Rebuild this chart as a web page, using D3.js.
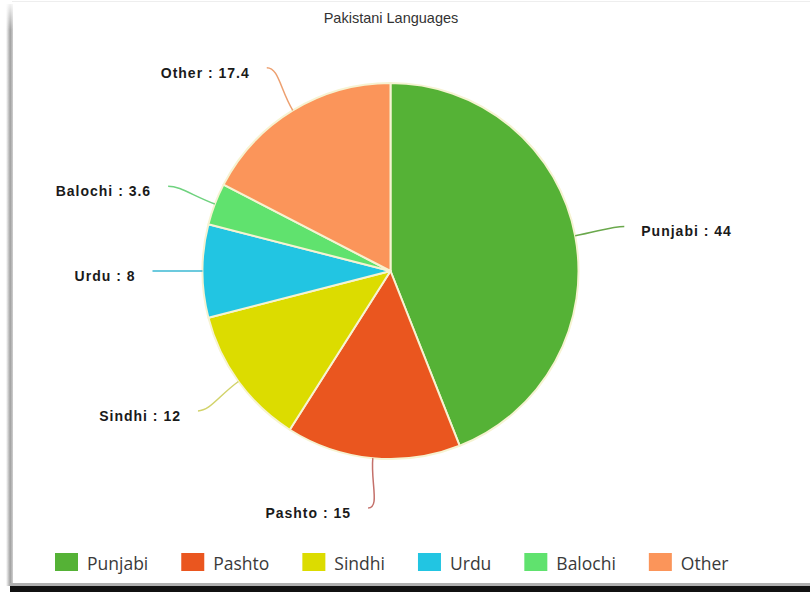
<!DOCTYPE html>
<html>
<head>
<meta charset="utf-8">
<script src="https://cdn.jsdelivr.net/npm/d3@7"></script>
<style>
  html, body { margin: 0; padding: 0; background: #fff; }
  svg { display: block; }
</style>
</head>
<body>
<svg id="chart" width="810" height="592"></svg>
<script>
const title = "Pakistani Languages";
const categories = ["Punjabi", "Pashto", "Sindhi", "Urdu", "Balochi", "Other"];
const values = [44, 15, 12, 8, 3.6, 17.4];
const colors = ["#55b236", "#ea561f", "#dcdc00", "#22c5e2", "#60e26e", "#fb955a"];
const lineColors = ["#6aa84c", "#c4706a", "#d2d36a", "#3bb8d3", "#6fd27f", "#eda070"];

const svg = d3.select("#chart");
const W = 810, H = 592;

// frame / card look
const defs = svg.append("defs");
const g1 = defs.append("linearGradient").attr("id", "lshadow").attr("x1", 0).attr("x2", 1).attr("y1", 0).attr("y2", 0);
g1.append("stop").attr("offset", "0%").attr("stop-color", "#ffffff");
g1.append("stop").attr("offset", "60%").attr("stop-color", "#a0a0a0");
g1.append("stop").attr("offset", "100%").attr("stop-color", "#d0d0d0");
const g2 = defs.append("linearGradient").attr("id", "tshadow").attr("x1", 0).attr("x2", 0).attr("y1", 0).attr("y2", 1);
g2.append("stop").attr("offset", "0%").attr("stop-color", "#fff").attr("stop-opacity", 1);
g2.append("stop").attr("offset", "100%").attr("stop-color", "#fff").attr("stop-opacity", 0);

svg.append("rect").attr("x", 0).attr("y", 0).attr("width", W).attr("height", H).attr("fill", "#fff");
svg.append("rect").attr("x", 6).attr("y", 4).attr("width", 7).attr("height", 582).attr("fill", "url(#lshadow)");
svg.append("rect").attr("x", 0).attr("y", 0).attr("width", 20).attr("height", 30).attr("fill", "url(#tshadow)");
svg.append("rect").attr("x", 12).attr("y", 1).attr("width", W).attr("height", 1).attr("fill", "#eeeeee");
svg.append("rect").attr("x", 10).attr("y", 583).attr("width", W).attr("height", 3).attr("fill", "#b0b0b0");
svg.append("rect").attr("x", 10).attr("y", 586).attr("width", W).attr("height", 6).attr("fill", "#111");

// title
svg.append("text")
  .attr("x", 391).attr("y", 23)
  .attr("text-anchor", "middle")
  .attr("font-family", "Liberation Sans, Arial, sans-serif")
  .attr("font-size", 14.5)
  .attr("fill", "#333")
  .text(title);

// pie
const cx = 390.5, cy = 271, R = 188;
const data = categories.map((c, i) => ({ name: c, value: values[i], color: colors[i], lc: lineColors[i] }));
const pie = d3.pie().sort(null).value(d => d.value).startAngle(0).endAngle(2 * Math.PI);
const arcs = pie(data);
const arc = d3.arc().innerRadius(0).outerRadius(R);

const g = svg.append("g").attr("transform", `translate(${cx},${cy})`);
g.selectAll("path.slice").data(arcs).enter().append("path")
  .attr("class", "slice")
  .attr("d", arc)
  .attr("fill", d => d.data.color)
  .attr("stroke", "#f6f3d2")
  .attr("stroke-width", 2)
  .attr("stroke-linejoin", "round");

// leader lines & labels
const pt = (a, r) => [r * Math.sin(a), -r * Math.cos(a)];
arcs.forEach(d => {
  const a = (d.startAngle + d.endAngle) / 2;
  const s = Math.sin(a) >= 0 ? 1 : -1;
  const p0 = pt(a, R);
  const c1 = pt(a, R + 24);
  const e = pt(a, R + 50);
  const c2 = [e[0] - s * 12, e[1]];
  const path = d3.path();
  path.moveTo(p0[0], p0[1]);
  path.bezierCurveTo(c1[0], c1[1], c2[0], c2[1], e[0], e[1]);
  g.append("path")
    .attr("d", path.toString())
    .attr("fill", "none")
    .attr("stroke", d.data.lc)
    .attr("stroke-width", 1.5);
  g.append("text")
    .attr("x", e[0] + s * 17)
    .attr("y", e[1] + 5)
    .attr("dominant-baseline", "central")
    .attr("text-anchor", s > 0 ? "start" : "end")
    .attr("font-family", "Liberation Sans, Arial, sans-serif")
    .attr("font-weight", "bold")
    .attr("font-size", 14)
    .attr("letter-spacing", 1)
    .attr("fill", "#1a1a1a")
    .text(`${d.data.name} : ${d.data.value}`);
});

// legend
const legend = svg.append("g").attr("class", "legend");
let lx = 55;
const ly = 562;
data.forEach(d => {
  const it = legend.append("g").attr("transform", `translate(${lx},${ly})`);
  it.append("rect").attr("x", 0).attr("y", -9).attr("width", 23).attr("height", 18).attr("fill", d.color);
  const t = it.append("text")
    .attr("x", 32).attr("y", 1)
    .attr("dominant-baseline", "central")
    .attr("font-family", "Open Sans, sans-serif")
    .attr("font-size", 17.5)
    .attr("fill", "#3a3a3a")
    .text(d.name);
  const tw = t.node().getComputedTextLength();
  lx += 32 + tw + 33;
});
</script>
</body>
</html>
